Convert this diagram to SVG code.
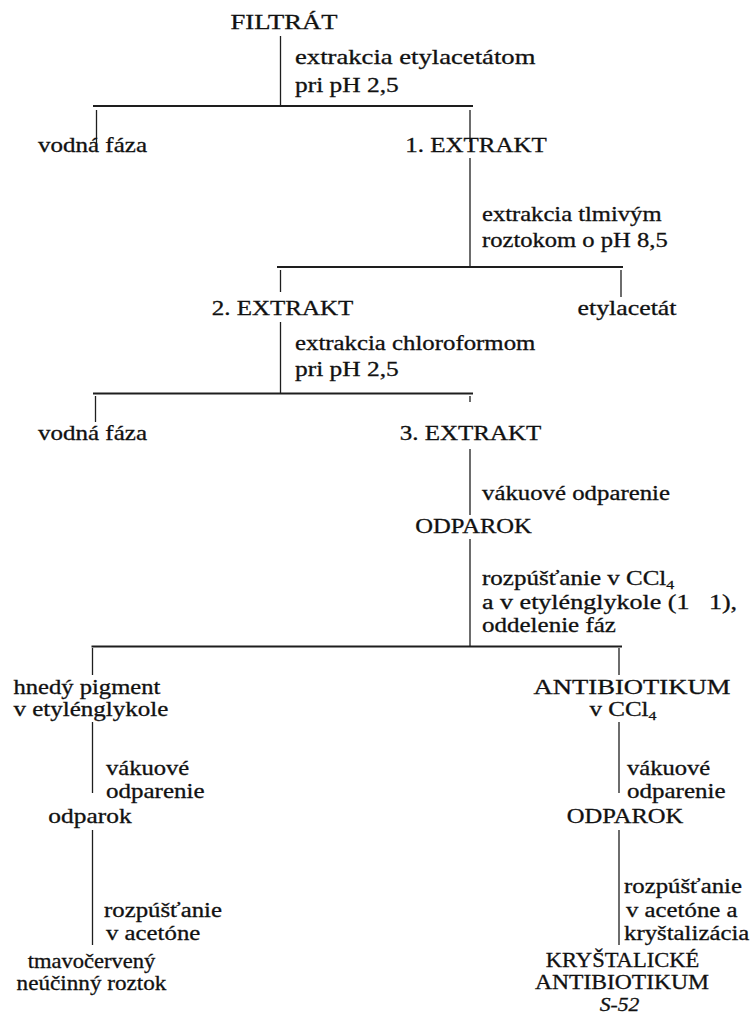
<svg xmlns="http://www.w3.org/2000/svg" width="752" height="1016" viewBox="0 0 752 1016" font-family="'Liberation Serif', 'Times New Roman', Times, serif">
<style>
text{font-size:20.5px;fill:#111111;stroke:#111111;stroke-width:0.3}
.m{text-anchor:middle}
.i{font-style:italic;font-size:18px}
.sub{font-size:13px}
.c line{stroke:#1e1e1e;stroke-width:1.3;fill:none}
.c line.h{stroke-width:1.8}
</style>
<rect width="752" height="1016" fill="#ffffff"/>
<g id="connectors" class="c">
<line x1="280.5" y1="36" x2="280.5" y2="106"/>
<line class="h" x1="93" y1="106" x2="473" y2="106"/>
<line x1="96.5" y1="110" x2="96.5" y2="143"/>
<line x1="470" y1="110" x2="470" y2="142"/>
<line x1="470" y1="158" x2="470" y2="267"/>
<line class="h" x1="277" y1="267" x2="623" y2="267"/>
<line x1="280.5" y1="270" x2="280.5" y2="292"/>
<line x1="621" y1="270" x2="621" y2="297"/>
<line x1="280.5" y1="322" x2="280.5" y2="393"/>
<line class="h" x1="93" y1="393.5" x2="473" y2="393.5"/>
<line x1="95.5" y1="396" x2="95.5" y2="422"/>
<line x1="470" y1="396" x2="470" y2="402"/>
<line x1="470" y1="449" x2="470" y2="515"/>
<line x1="470" y1="539" x2="470" y2="646"/>
<line class="h" x1="91.5" y1="646.5" x2="622" y2="646.5"/>
<line x1="92.5" y1="648" x2="92.5" y2="675"/>
<line x1="619" y1="648" x2="619" y2="675"/>
<line x1="92.5" y1="722" x2="92.5" y2="793"/>
<line x1="92.5" y1="830" x2="92.5" y2="945"/>
<line x1="619" y1="722" x2="619" y2="793"/>
<line x1="619" y1="830" x2="619" y2="945"/>
</g>
<g id="filtrat"><text class="m" transform="translate(284,29) scale(1.3,1)">FILTRÁT</text></g>
<g id="label1"><text transform="translate(295,64) scale(1.3,1)">extrakcia etylacetátom</text><text transform="translate(295,92) scale(1.24,1)">pri pH 2,5</text></g>
<g id="vodna1"><text class="m" transform="translate(92.5,152) scale(1.22,1)">vodná fáza</text></g>
<g id="extrakt1"><text class="m" transform="translate(476,152) scale(1.22,1)">1. EXTRAKT</text></g>
<g id="label2"><text transform="translate(482,221) scale(1.2,1)">extrakcia tlmivým</text><text transform="translate(482,247) scale(1.2,1)">roztokom o pH 8,5</text></g>
<g id="extrakt2"><text class="m" transform="translate(282.5,315) scale(1.22,1)">2. EXTRAKT</text></g>
<g id="etylacetat"><text class="m" transform="translate(627,315) scale(1.26,1)">etylacetát</text></g>
<g id="label3"><text transform="translate(295,350) scale(1.21,1)">extrakcia chloroformom</text><text transform="translate(295,376) scale(1.24,1)">pri pH 2,5</text></g>
<g id="vodna2"><text class="m" transform="translate(92.5,440) scale(1.22,1)">vodná fáza</text></g>
<g id="extrakt3"><text class="m" transform="translate(470.5,440) scale(1.22,1)">3. EXTRAKT</text></g>
<g id="label4"><text transform="translate(482,500) scale(1.21,1)">vákuové odparenie</text></g>
<g id="odparok1"><text class="m" transform="translate(473.5,533) scale(1.2,1)">ODPAROK</text></g>
<g id="label5"><text transform="translate(482,585) scale(1.22,1)">rozpúšťanie v CCl<tspan class="sub" dy="4">4</tspan></text><text transform="translate(482,609) scale(1.27,1)">a v etylénglykole (1&#160;&#160;&#160;1),</text><text transform="translate(482,632) scale(1.22,1)">oddelenie fáz</text></g>
<g id="pigment"><text transform="translate(13.5,694) scale(1.2,1)">hnedý pigment</text><text transform="translate(13.5,716) scale(1.22,1)">v etylénglykole</text></g>
<g id="antibiotikum"><text class="m" transform="translate(632,694) scale(1.3,1)">ANTIBIOTIKUM</text><text class="m" transform="translate(623,716) scale(1.22,1)">v CCl<tspan class="sub" dy="4">4</tspan></text></g>
<g id="label6"><text transform="translate(106,775) scale(1.2,1)">vákuové</text><text transform="translate(106,798) scale(1.22,1)">odparenie</text></g>
<g id="odparok2"><text class="m" transform="translate(90,823) scale(1.24,1)">odparok</text></g>
<g id="label7"><text transform="translate(104,917) scale(1.21,1)">rozpúšťanie</text><text transform="translate(106,940) scale(1.21,1)">v acetóne</text></g>
<g id="roztok"><text class="m" transform="translate(91.5,968) scale(1.1,1)">tmavočervený</text><text class="m" transform="translate(91.5,990) scale(1.13,1)">neúčinný roztok</text></g>
<g id="label8"><text transform="translate(627,775) scale(1.2,1)">vákuové</text><text transform="translate(627,798) scale(1.22,1)">odparenie</text></g>
<g id="odparok3"><text class="m" transform="translate(625,823) scale(1.2,1)">ODPAROK</text></g>
<g id="label9"><text transform="translate(624,893) scale(1.21,1)">rozpúšťanie</text><text transform="translate(626,917) scale(1.21,1)">v acetóne a</text><text transform="translate(624,940) scale(1.21,1)">kryštalizácia</text></g>
<g id="kryst"><text class="m" transform="translate(622.5,967) scale(1.1,1)">KRYŠTALICKÉ</text><text class="m" transform="translate(622,989) scale(1.15,1)">ANTIBIOTIKUM</text><text class="m i" transform="translate(619.5,1011) scale(1.2,1)">S-52</text></g>
</svg>
